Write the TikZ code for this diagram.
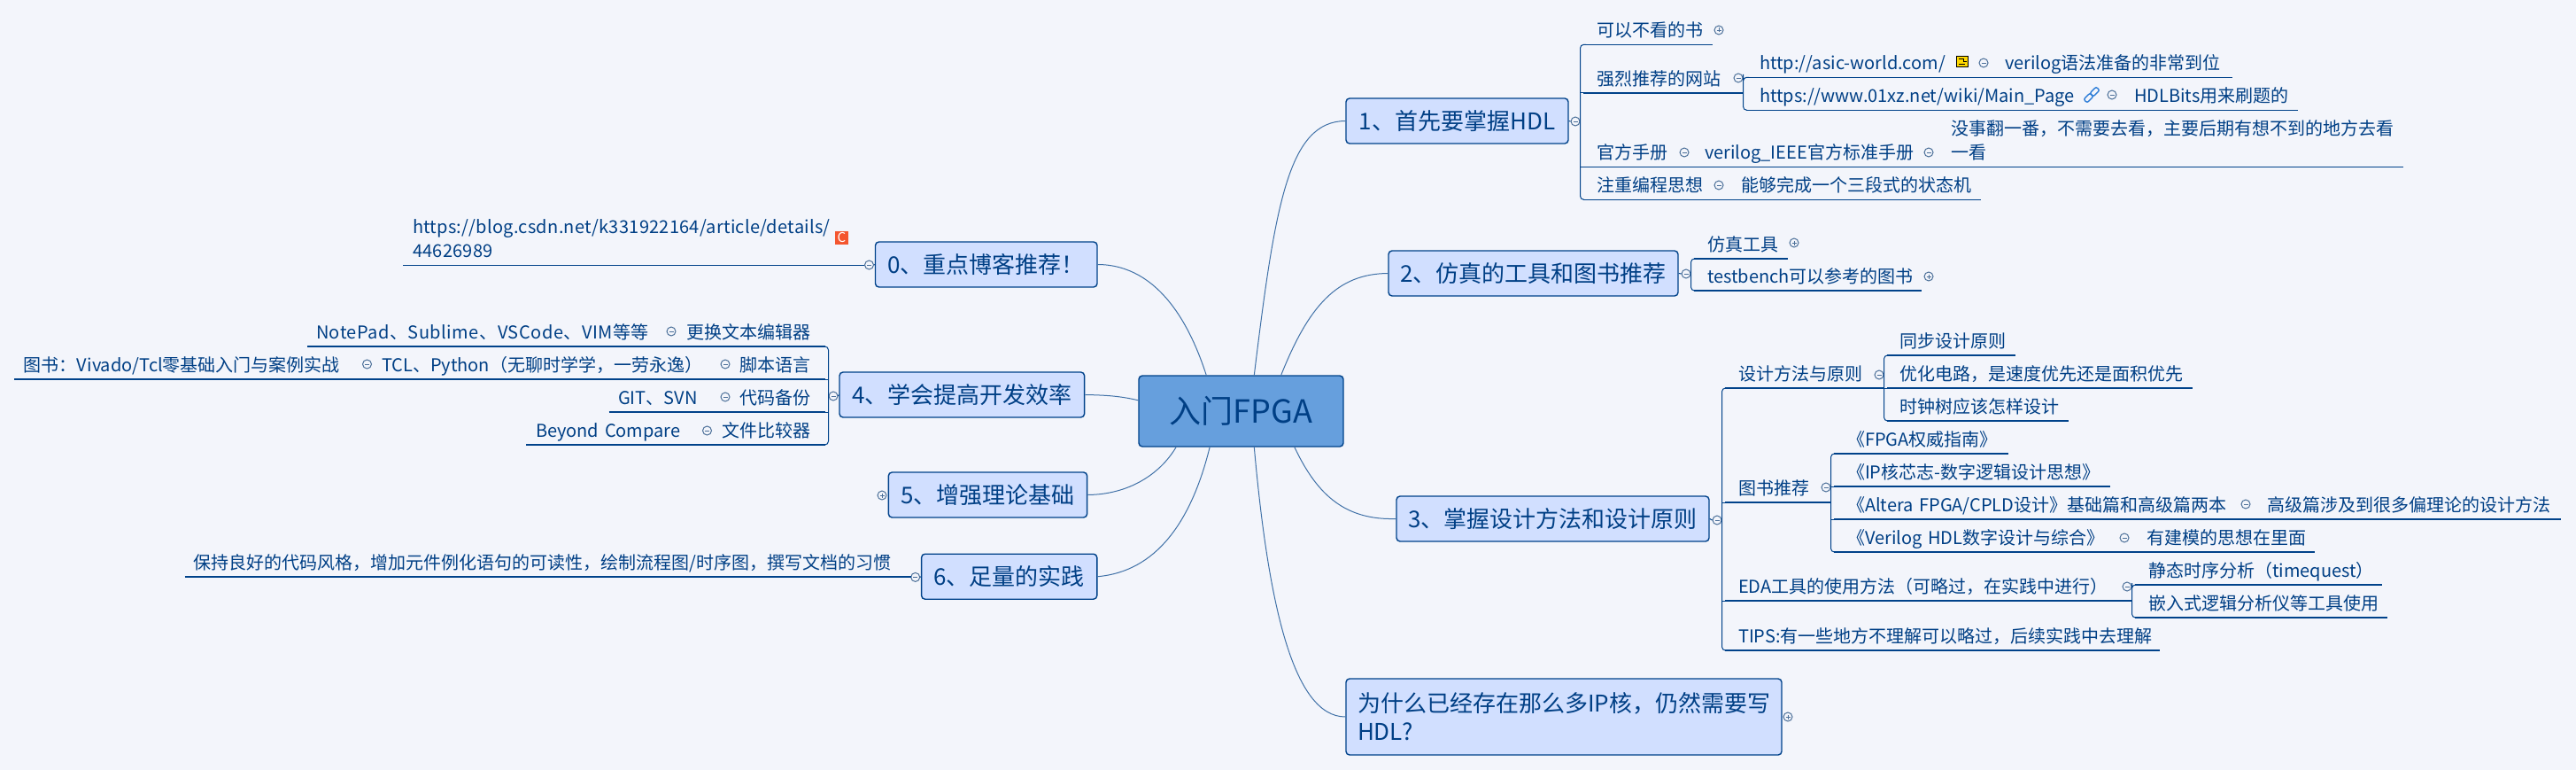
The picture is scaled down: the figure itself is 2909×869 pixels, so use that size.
\documentclass[tikz,border=0pt]{standalone}
\usepackage{fontspec}
\setmainfont{Noto Sans CJK SC}
\definecolor{mapbg}{HTML}{F3F5FB}
\definecolor{mapink}{HTML}{003F85}
\definecolor{mapline}{HTML}{00428A}
\definecolor{mapfill}{HTML}{D1DFFF}
\definecolor{rootfill}{HTML}{669FDD}
\definecolor{foldline}{HTML}{4C7099}
\definecolor{clipblue}{HTML}{2F7ED8}
\definecolor{csdnred}{HTML}{F4562F}
\definecolor{iconyellow}{HTML}{FFD800}
\tikzset{
  topic/.style={draw=mapline,line width=1.4pt,fill=mapfill,rounded corners=4pt,inner sep=0pt,text=mapink,
    font=\fontsize{26}{32}\selectfont},
  root/.style={topic,fill=rootfill,font=\fontsize{36}{40}\selectfont},
  leaf/.style 2 args={anchor=south west,inner xsep=0pt,inner ysep=0pt,outer sep=0pt,text width=#2,align=left,
    text depth=8.5pt,text=mapink,font=\fontsize{20}{27}\selectfont,execute at begin node={\hspace*{#1}},
    append after command={(\tikzlastnode.south west) edge[under] (\tikzlastnode.south east)}},
  twolines/.style={text depth=35.5pt},
  under/.style={draw=mapline,line width=1.5pt},
  link/.style={draw=mapline,line width=1pt},
  branch/.style={draw=mapline!75,line width=1pt},
  fold/.style={circle,draw=foldline,fill=mapbg,line width=1pt,minimum size=10pt,inner sep=0pt},
  foldminus/.style={fold,path picture={\draw[foldline,line width=.8pt] ([xshift=-2.5pt]path picture bounding box.center) -- ([xshift=2.5pt]path picture bounding box.center);}},
  foldplus/.style={fold,path picture={\draw[foldline,line width=.8pt] ([xshift=-2.5pt]path picture bounding box.center) -- ([xshift=2.5pt]path picture bounding box.center) ([yshift=-2.5pt]path picture bounding box.center) -- ([yshift=2.5pt]path picture bounding box.center);}},
  cliplink/.style={draw=clipblue,line width=1.4pt,rounded corners=2pt,minimum width=10pt,minimum height=5.5pt,inner sep=0pt,rotate=45},
}
\begin{document}
\begin{tikzpicture}[x=1pt,y=-1pt]
  \useasboundingbox (0,0) rectangle (2909,869);
  \fill[mapbg] (0,0) rectangle (2909,869);
  % Topics
  \node[root,minimum width=231pt,minimum height=80pt] (fpga) at (1401.5,464) {入门FPGA};
  \node[topic,minimum width=251pt,minimum height=51pt] (hdl) at (1645.5,136.5) {1、首先要掌握HDL};
  \node[topic,minimum width=327pt,minimum height=51pt] (sim) at (1731.5,308.5) {2、仿真的工具和图书推荐};
  \node[topic,minimum width=353pt,minimum height=51pt] (design) at (1753.5,585.5) {3、掌握设计方法和设计原则};
  \node[topic,minimum width=492pt,minimum height=86pt,text width=466pt,align=left] (why) at (1766,809) {为什么已经存在那么多IP核，仍然需要写\\HDL?};
  \node[topic,minimum width=250.5pt,minimum height=51pt] (blog) at (1113.75,298.5) {0、重点博客推荐！};
  \node[topic,minimum width=276.6pt,minimum height=51pt] (tools) at (1086.3,445.5) {4、学会提高开发效率};
  \node[topic,minimum width=224.3pt,minimum height=51pt] (theory) at (1115.5,558.5) {5、增强理论基础};
  \node[topic,minimum width=198.2pt,minimum height=51pt] (practice) at (1139.7,650.7) {6、足量的实践};
  % Branches
  \draw[branch] (fpga.70) .. controls (1440,230) and (1455,137) .. (hdl.west);
  \draw[branch] (fpga.42.6) .. controls (1478,345) and (1510,309) .. (sim.west);
  \draw[branch] (fpga.-34.8) .. controls (1488,560) and (1520,587) .. (design.west);
  \draw[branch] (fpga.-70.7) .. controls (1432,680) and (1460,809) .. (why.west);
  \draw[branch] (fpga.134.6) .. controls (1345,370) and (1310,299) .. (blog.east);
  \draw[branch] (fpga.174.3) .. controls (1265,447) and (1250,446) .. (tools.east);
  \draw[branch] (fpga.209) .. controls (1310,535) and (1275,558) .. (theory.east);
  \draw[branch] (fpga.-131.2) .. controls (1345,590) and (1305,645) .. (practice.east);
  % Topic 1
  \node[foldminus] (foldhdl) at (1779,137) {};
  \draw[link] (hdl.east) -- (foldhdl.west);
  \node[leaf={15pt}{146pt}] (hdla) at (1788,50.3) {可以不看的书};
  \node[foldplus] at (1941,34) {};
  \node[leaf={15pt}{180pt}] (hdlb) at (1788,105) {强烈推荐的网站};
  \node[foldminus] (foldhdlb) at (1963,88) {};
  \node[leaf={15pt}{268pt}] (weba) at (1972,87.3) {http://asic-world.com/};
  \node[draw=black,line width=1pt,fill=iconyellow,minimum width=13pt,minimum height=12pt,inner sep=0pt,
    path picture={\draw[black,line width=1pt] (path picture bounding box.north west) ++(3,3) -- ++(5,0) -- ++(0,3) -- ++(4,0) (path picture bounding box.south west) ++(3,-3) -- ++(7,0);}] (webicon) at (2215.5,70) {};
  \node[foldminus] at (2240,71) {};
  \node[leaf={24pt}{281pt}] (webanote) at (2240,87.3) {verilog语法准备的非常到位};
  \node[leaf={15pt}{413pt}] (webb) at (1972,124.3) {https://www.01xz.net/wiki/Main\_Page};
  \node[cliplink] (clipa) at (2358.5,110.5) {};
  \node[cliplink] (clipb) at (2365.5,103.5) {};
  \node[foldminus] at (2385,107) {};
  \node[leaf={25pt}{210pt}] (webbnote) at (2385,124.3) {HDLBits用来刷题的};
  \node[leaf={15pt}{114pt}] (hdlc) at (1788,188.3) {官方手册};
  \node[foldminus] at (1902,172) {};
  \node[leaf={23pt}{276pt}] (hdlcbook) at (1902,188.3) {verilog\_IEEE官方标准手册};
  \node[foldminus] at (2178,172) {};
  \node[leaf={25pt}{536pt},twolines] (hdlcnote) at (2178,188.3) {没事翻一番，不需要去看，主要后期有想不到的地方去看\\\hspace*{25pt}一看};
  \node[leaf={15pt}{153pt}] (hdld) at (1788,225.3) {注重编程思想};
  \node[foldminus] at (1941,209) {};
  \node[leaf={25pt}{296pt}] (hdldnote) at (1941,225.3) {能够完成一个三段式的状态机};
  \draw[link,rounded corners=4pt] (hdla.south west) -| (foldhdl.east) |- (hdld.south west);
  \foreach \leafname in {hdlb,hdlc} \draw[link] (\leafname.south west) -- (\leafname.south west -| foldhdl.east);
  \draw[link,rounded corners=4pt] (weba.south west) -| (foldhdlb.east) |- (webb.south west);
  % Topic 2
  \node[foldminus] (foldsim) at (1904,309) {};
  \draw[link] (sim.east) -- (foldsim.west);
  \node[leaf={15pt}{105.5pt}] (sima) at (1913,292) {仿真工具};
  \node[foldplus] at (2026,274) {};
  \node[leaf={15pt}{257pt}] (simb) at (1913,328) {testbench可以参考的图书};
  \node[foldplus] at (2178,312) {};
  \draw[link,rounded corners=4pt] (sima.south west) -| (foldsim.east) |- (simb.south west);
  % Topic 3
  \node[foldminus] (folddesign) at (1939,587) {};
  \draw[link] (design.east) -- (folddesign.west);
  \node[leaf={15pt}{179pt}] (designa) at (1948,438) {设计方法与原则};
  \node[foldminus] (folddesigna) at (2122,423) {};
  \node[leaf={14pt}{145pt}] (rulea) at (2131,401) {同步设计原则};
  \node[leaf={14pt}{345pt}] (ruleb) at (2131,438) {优化电路，是速度优先还是面积优先};
  \node[leaf={14pt}{205pt}] (rulec) at (2131,475) {时钟树应该怎样设计};
  \draw[link,rounded corners=4pt] (rulea.south west) -| (folddesigna.east) |- (rulec.south west);
  \draw[link] (ruleb.south west) -- (ruleb.south west -| folddesigna.east);
  \node[leaf={15pt}{119pt}] (designb) at (1948,567) {图书推荐};
  \node[foldminus] (folddesignb) at (2062,550) {};
  \node[leaf={15pt}{197pt}] (booka) at (2071,512) {《FPGA权威指南》};
  \node[leaf={15pt}{312pt}] (bookb) at (2071,549) {《IP核芯志-数字逻辑设计思想》};
  \node[leaf={15pt}{465pt}] (bookc) at (2071,586) {《Altera FPGA/CPLD设计》基础篇和高级篇两本};
  \node[foldminus] at (2536,569) {};
  \node[leaf={24pt}{356pt}] (bookcnote) at (2536,586) {高级篇涉及到很多偏理论的设计方法};
  \node[leaf={15pt}{328pt}] (bookd) at (2071,623) {《Verilog HDL数字设计与综合》};
  \node[foldminus] at (2399,607) {};
  \node[leaf={25pt}{215pt}] (bookdnote) at (2399,623) {有建模的思想在里面};
  \draw[link,rounded corners=4pt] (booka.south west) -| (folddesignb.east) |- (bookd.south west);
  \foreach \leafname in {bookb,bookc} \draw[link] (\leafname.south west) -- (\leafname.south west -| folddesignb.east);
  \node[leaf={15pt}{459pt}] (designc) at (1948,678) {EDA工具的使用方法（可略过，在实践中进行）};
  \node[foldminus] (folddesignc) at (2402,662) {};
  \node[leaf={15pt}{279pt}] (edaa) at (2411,660) {静态时序分析（timequest）};
  \node[leaf={15pt}{285pt}] (edab) at (2411,697) {嵌入式逻辑分析仪等工具使用};
  \draw[link,rounded corners=4pt] (edaa.south west) -| (folddesignc.east) |- (edab.south west);
  \node[leaf={15pt}{491pt}] (designd) at (1948,734) {TIPS:有一些地方不理解可以略过，后续实践中去理解};
  \draw[link,rounded corners=4pt] (designa.south west) -| (folddesign.east) |- (designd.south west);
  \foreach \leafname in {designb,designc} \draw[link] (\leafname.south west) -- (\leafname.south west -| folddesign.east);
  % Why
  \node[foldplus] (foldwhy) at (2019,809) {};
  % Topic 0
  \node[foldminus] (foldblog) at (981.5,299) {};
  \draw[link] (blog.west) -- (foldblog.east);
  \node[leaf={11pt}{521pt},twolines] (bloga) at (455,299.3) {\addfontfeature{LetterSpace=1.3}https://blog.csdn.net/k331922164/article/details/\\\hspace*{11pt}44626989};
  \node[fill=csdnred,text=white,inner sep=0pt,minimum width=15pt,minimum height=15pt,font=\fontsize{15}{15}\selectfont] (blogicon) at (950.5,268) {C};
  % Topic 4
  \node[foldminus] (foldtools) at (941,447) {};
  \draw[link] (tools.west) -- (foldtools.east);
  \node[leaf={10pt}{411pt}] (edita) at (347,391) {\addfontfeature{LetterSpace=2.5}NotePad、Sublime、VSCode、VIM等等};
  \node[foldminus] at (758,374) {};
  \node[leaf={17pt}{174pt}] (editb) at (758,391) {更换文本编辑器};
  \node[leaf={11pt}{398.5pt}] (scripta) at (16,428) {图书：Vivado/Tcl零基础入门与案例实战};
  \node[foldminus] at (414.5,411) {};
  \node[leaf={16.5pt}{404.5pt}] (scriptb) at (414.5,428) {TCL、Python（无聊时学学，一劳永逸）};
  \node[foldminus] at (819,411) {};
  \node[leaf={16pt}{113pt}] (scriptc) at (819,428) {脚本语言};
  \node[leaf={10.5pt}{131.5pt}] (gita) at (687.5,465) {GIT、SVN};
  \node[foldminus] at (819,448) {};
  \node[leaf={16pt}{113pt}] (gitb) at (819,465) {代码备份};
  \node[leaf={11pt}{204.5pt}] (cmpa) at (594,502) {Beyond Compare};
  \node[foldminus] at (798.5,486) {};
  \node[leaf={16.5pt}{133.5pt}] (cmpb) at (798.5,502) {文件比较器};
  \draw[link,rounded corners=4pt] (editb.south east) -| (foldtools.west) |- (cmpb.south east);
  \foreach \leafname in {scriptc,gitb} \draw[link] (\leafname.south east) -- (\leafname.south east -| foldtools.west);
  % Topic 5
  \node[foldplus] (foldtheory) at (996,559) {};
  % Topic 6
  \node[foldminus] (foldpractice) at (1033.7,651.4) {};
  \draw[link] (practice.west) -- (foldpractice.east);
  \node[leaf={10pt}{820.5pt}] (practicea) at (208.5,651) {保持良好的代码风格，增加元件例化语句的可读性，绘制流程图/时序图，撰写文档的习惯};
  \draw[link] (practicea.south east) -- (foldpractice.west);
\end{tikzpicture}
\end{document}
